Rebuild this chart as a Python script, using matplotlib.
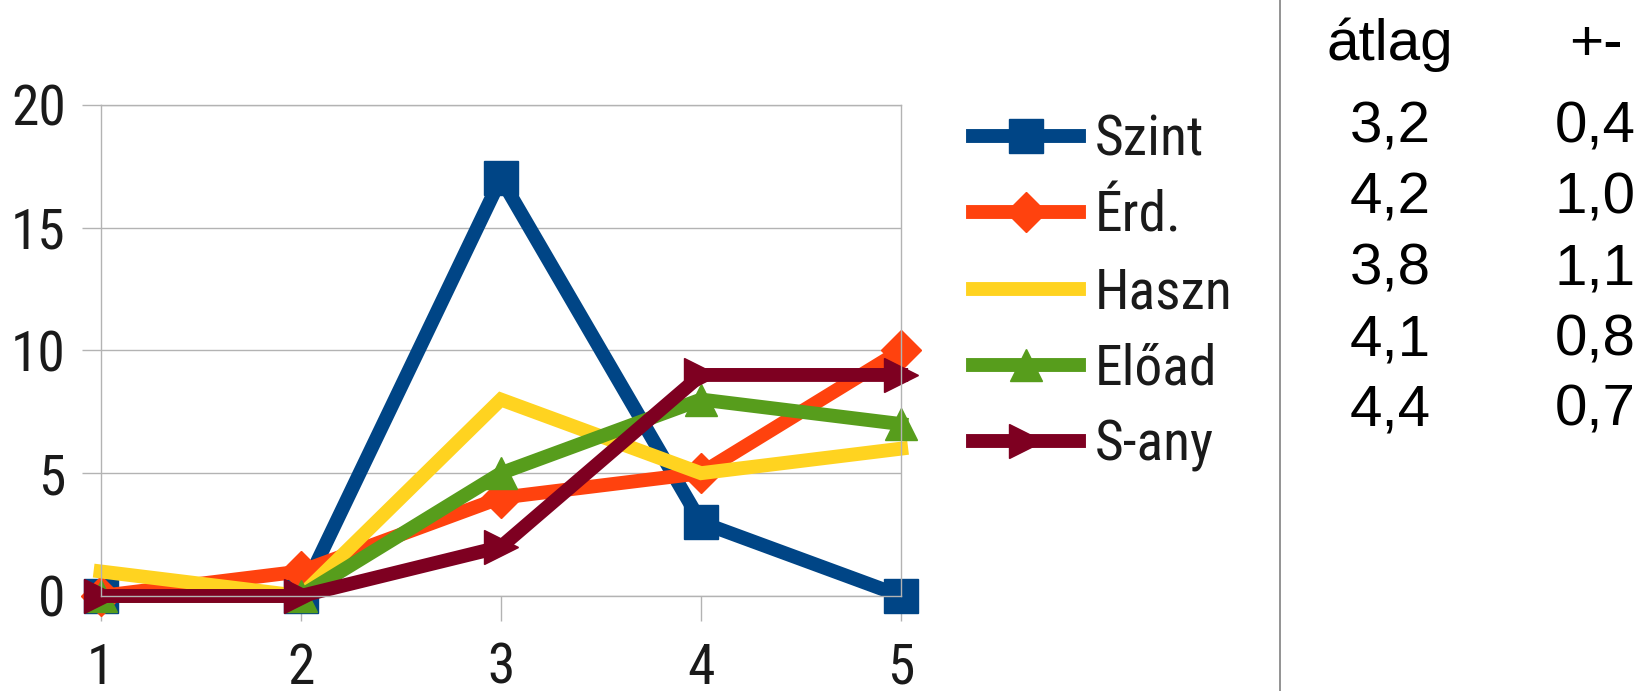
import matplotlib
matplotlib.use("Agg")
import matplotlib.pyplot as plt
from matplotlib import font_manager

x = [1, 2, 3, 4, 5]
szint = [0, 0, 17, 3, 0]
erd = [0, 1, 4, 5, 10]
haszn = [1, 0, 8, 5, 6]
eload = [0, 0, 5, 8, 7]
sany = [0, 0, 2, 9, 9]

labels = ["Szint", "Érd.", "Haszn", "Előad", "S-any"]
colors = ["#004586", "#ff420e", "#ffd320", "#579d1c", "#7e0021"]
markers = ["s", "D", None, "^", ">"]
msizes = [24, 20, 0, 23, 25]

atlag = ["3,2", "4,2", "3,8", "4,1", "4,4"]
pm = ["0,4", "1,0", "1,1", "0,8", "0,7"]

# the chart uses a narrow sans; pick the closest one that is installed
names = {f.name for f in font_manager.fontManager.ttflist}
narrow = "Liberation Sans"
for cand in ["Liberation Sans Narrow", "Roboto Condensed", "Open Sans Condensed",
             "Noto Sans Condensed", "DejaVu Sans Condensed"]:
    if cand in names:
        narrow = cand
        break
stretch = "normal"
if narrow == "Liberation Sans":
    for f in font_manager.fontManager.ttflist:
        if f.name == "DejaVu Sans" and f.stretch == "condensed":
            narrow = "DejaVu Sans"
            stretch = "condensed"
            break

fig = plt.figure(figsize=(16.43, 6.91), dpi=100)
ax = fig.add_axes([0.0612, 0.1375, 0.4873, 0.7108])

series = [szint, erd, haszn, eload, sany]
for s, lab, c, m, ms in zip(series, labels, colors, markers, msizes):
    ax.plot(x, s, color=c, lw=10, marker=m, markersize=ms, label=lab,
            clip_on=False, solid_joinstyle="miter")

ax.set_xlim(1, 5)
ax.set_ylim(0, 20)
ax.set_xticks(x)
ax.set_yticks([0, 5, 10, 15, 20])
ax.grid(axis="y", color="#b3b3b3", lw=1)
ax.set_axisbelow(True)
for sp in ax.spines.values():
    sp.set_color("#b3b3b3")
    sp.set_linewidth(1)
ax.tick_params(axis="x", length=18, width=1, color="#b3b3b3", pad=15,
               labelsize=40, labelcolor="#1a1a1a")
ax.tick_params(axis="y", length=14, width=1, color="#b3b3b3", pad=11,
               labelsize=40, labelcolor="#1a1a1a")
for t in ax.get_xticklabels() + ax.get_yticklabels():
    t.set_family(narrow)
    t.set_stretch(stretch)

leg = ax.legend(loc="center left", bbox_to_anchor=(973 / 1643, 1 - 293 / 691),
                bbox_transform=fig.transFigure, frameon=False,
                prop={"family": narrow, "size": 40, "stretch": stretch},
                handlelength=1.9, handletextpad=0.3, labelspacing=0.42,
                borderaxespad=0, borderpad=0)
for t in leg.get_texts():
    t.set_color("#1a1a1a")

# right hand table
fig.add_artist(plt.Line2D([1280 / 1643, 1280 / 1643], [0, 1],
                          color="#808080", lw=1.2, transform=fig.transFigure))
fig.text(1390 / 1643, 1 - 60 / 691, "átlag", ha="center", va="baseline",
         fontsize=42, family="Liberation Sans", color="#000000")
fig.text(1596 / 1643, 1 - 60 / 691, "+-", ha="center", va="baseline",
         fontsize=42, family="Liberation Sans", color="#000000")
for i, (a, p) in enumerate(zip(atlag, pm)):
    yy = 1 - (143 + i * 70.7) / 691
    fig.text(1390 / 1643, yy, a, ha="center", va="baseline",
             fontsize=42, family="Liberation Sans", color="#000000")
    fig.text(1595 / 1643, yy, p, ha="center", va="baseline",
             fontsize=42, family="Liberation Sans", color="#000000")

fig.savefig("out.png", dpi=100)
